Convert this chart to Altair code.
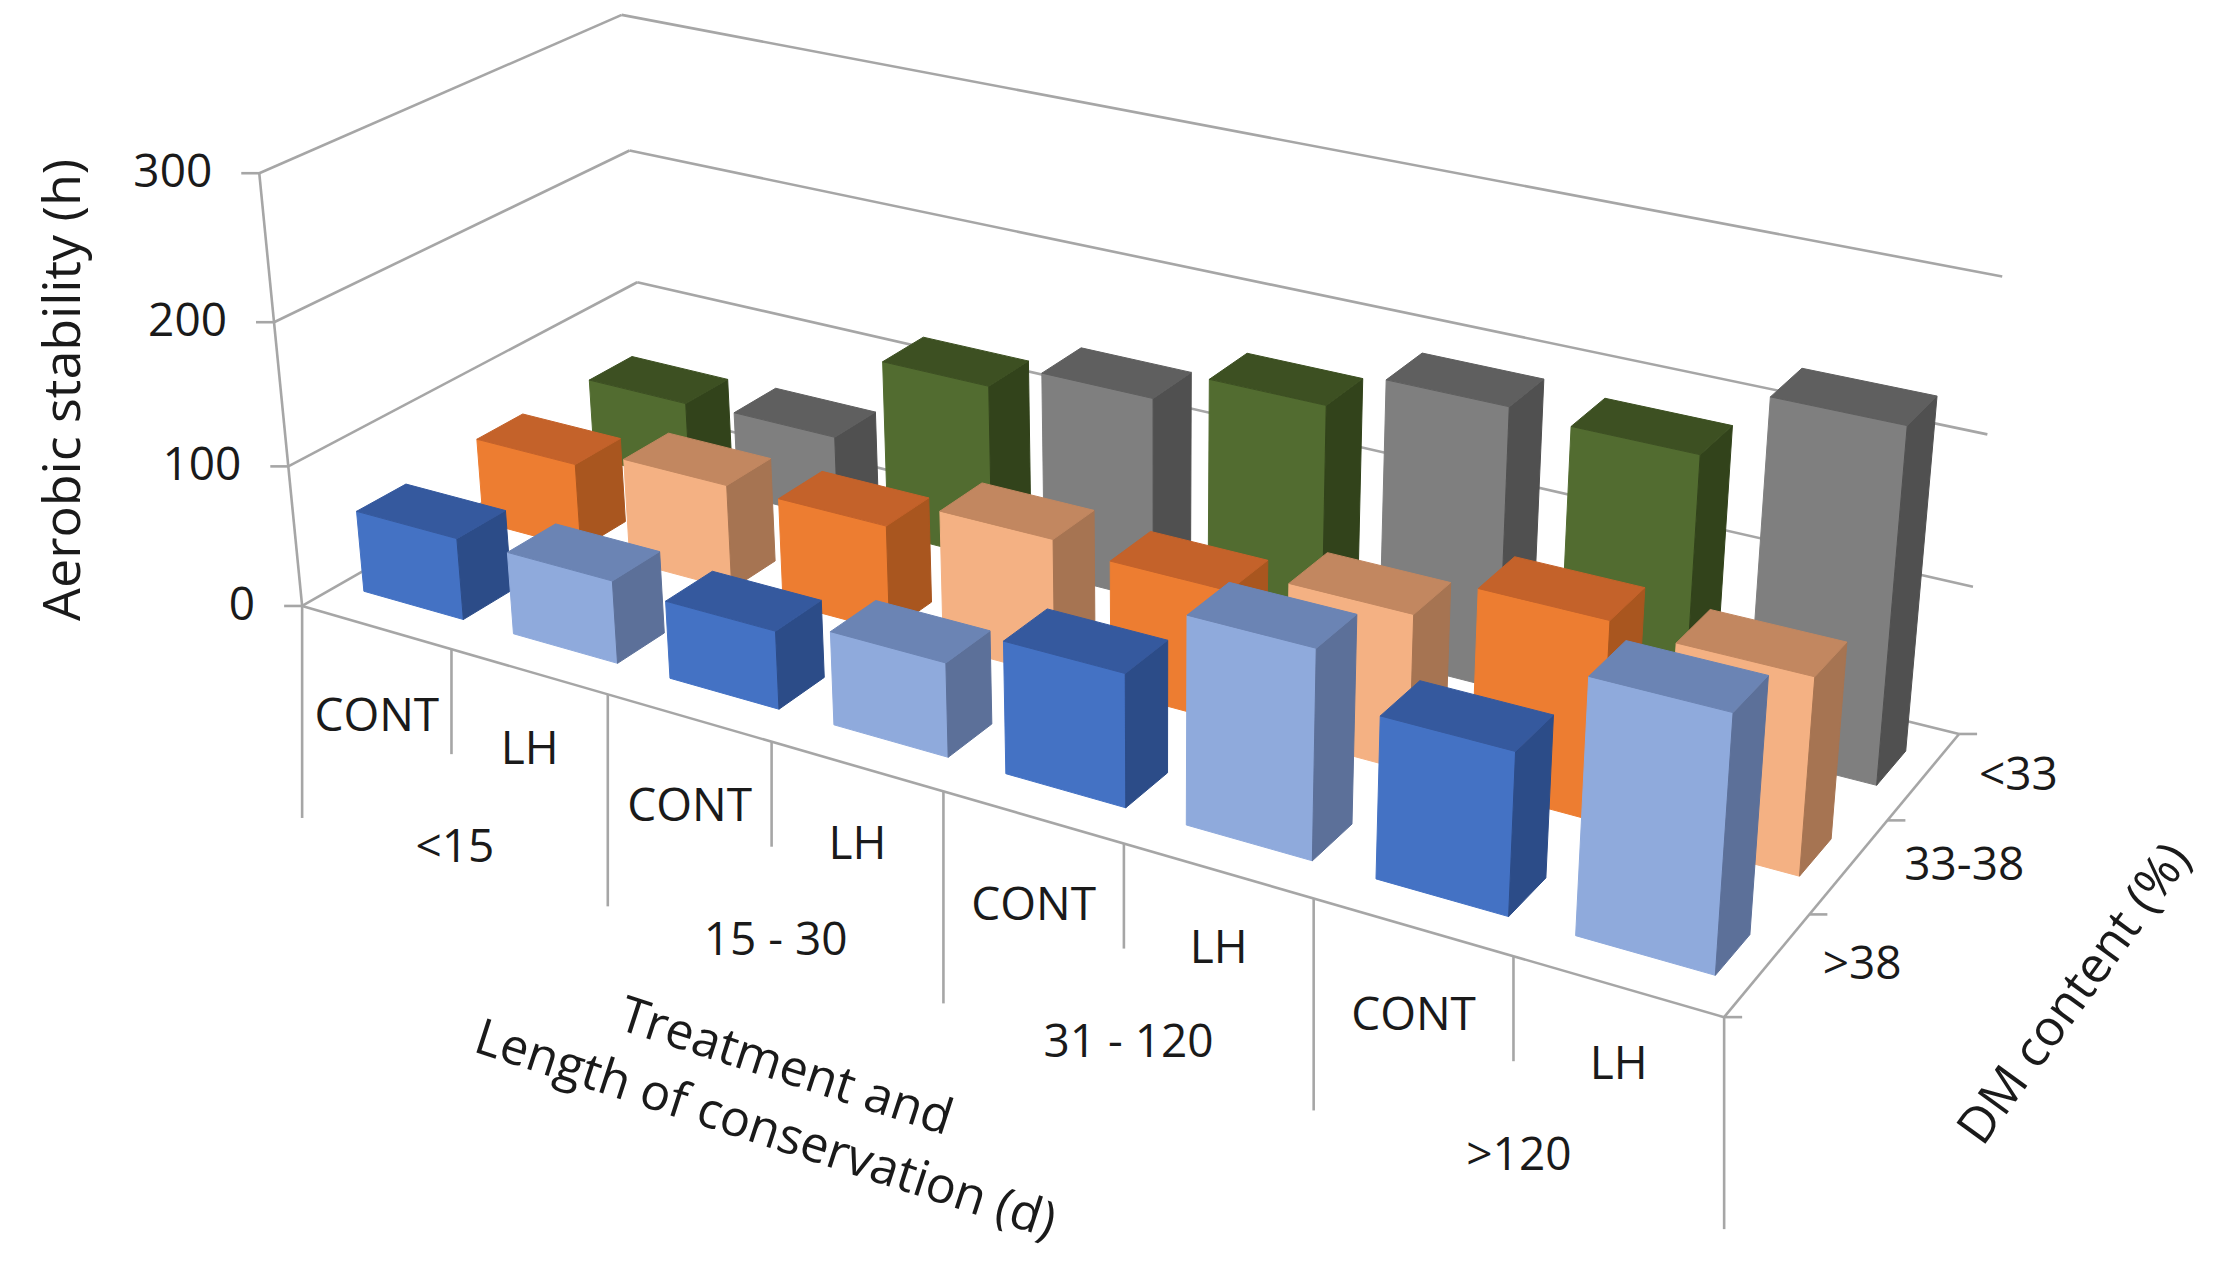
import numpy as np
import pandas as pd
import altair as alt

# ---------------- data ----------------
length_groups = ["<15", "15 - 30", "31 - 120", ">120"]
treatments = ["CONT", "LH"]
dm_classes = [">38", "33-38", "<33"]          # front row -> back row
value_ticks = [0, 100, 200, 300]
# aerobic stability (h); order: CONT <15, LH <15, CONT 15-30, LH 15-30, CONT 31-120, LH 31-120, CONT >120, LH >120
stab_gt38 = [58, 58, 54, 64, 89, 137, 105, 162]
stab_33_38 = [62, 75, 75, 95, 90, 105, 132, 128]
stab_lt33 = [60, 62, 126, 144, 166, 192, 188, 234]

# ---------------- 3-D view (camera) ----------------
W, H = 2200, 1260
CAMERA = dict(cx=1126.99, cy=453.35, focal=3935.97,
              yaw=0.529548, pitch=0.421643, roll=-0.002524,
              pos=(13.13543, -13.788102, 9.133168),
              row_depth=0.994475, hour_height=0.00803058)
BW, BD = 0.67, 0.40          # bar width / depth as a share of its cell


def basis(yaw, pitch, roll):
    hf = np.array([-np.sin(yaw), np.cos(yaw), 0.0])
    hr = np.array([np.cos(yaw), np.sin(yaw), 0.0])
    ez = np.array([0.0, 0.0, 1.0])
    w = np.cos(pitch) * hf - np.sin(pitch) * ez
    u0 = np.sin(pitch) * hf + np.cos(pitch) * ez
    r = np.cos(roll) * hr + np.sin(roll) * u0
    u = -np.sin(roll) * hr + np.cos(roll) * u0
    return r, u, w


RV, UV, WV = basis(CAMERA["yaw"], CAMERA["pitch"], CAMERA["roll"])
CPOS = np.array(CAMERA["pos"])


def world(pts):
    pts = np.atleast_2d(np.asarray(pts, float))
    return np.column_stack([pts[:, 0], pts[:, 1] * CAMERA["row_depth"], pts[:, 2] * CAMERA["hour_height"]])


def project(pts):
    d = world(pts) - CPOS
    zc = d @ WV
    f = CAMERA["focal"]
    return np.column_stack([CAMERA["cx"] + f * (d @ RV) / zc, CAMERA["cy"] - f * (d @ UV) / zc])


def P(pt):
    return project([pt])[0]


# ---------------- colours (front, top, side) ----------------
shades = {
    (0, 0): ("#4472C4", "#35599E", "#2C4C88"),
    (0, 1): ("#8FAADC", "#6B84B4", "#5C7099"),
    (1, 0): ("#ED7D31", "#C4622A", "#A9561F"),
    (1, 1): ("#F4B183", "#C28760", "#A67452"),
    (2, 0): ("#526C30", "#3D5022", "#32431B"),
    (2, 1): ("#7F7F7F", "#5F5F5F", "#505050"),
}

cat_labels = [(g, t) for g in length_groups for t in treatments]
series = [stab_gt38, stab_33_38, stab_lt33]

bars = []
for r_, vals in enumerate(series):
    for i_, v in enumerate(vals):
        bars.append((r_, i_, v))


def depth_of(b):
    r_, i_, v = b
    c = world([(i_ + 0.5, r_ + 0.5, v / 2)])[0]
    return (c - CPOS) @ WV


ordered = sorted(bars, key=lambda b: -depth_of(b))   # far bars first
poly_rows = []
for rank, (r_, i_, v) in enumerate(ordered):
    x0, x1 = i_ + 0.5 - BW / 2, i_ + 0.5 + BW / 2
    y0, y1 = r_ + 0.5 - BD / 2, r_ + 0.5 + BD / 2
    fr, tp, sd = shades[(r_, i_ % 2)]
    faces = [
        ("front", fr, [(x0, y0, 0), (x1, y0, 0), (x1, y0, v), (x0, y0, v)]),
        ("side", sd, [(x1, y0, 0), (x1, y1, 0), (x1, y1, v), (x1, y0, v)]),
        ("top", tp, [(x0, y0, v), (x1, y0, v), (x1, y1, v), (x0, y1, v)]),
    ]
    for fname, col, verts in faces:
        pts = project(verts)
        for k, (px, py) in enumerate(pts):
            poly_rows.append(dict(rank=rank, poly=f"{rank}-{fname}", k=k, px=px, py=py, color=col))
poly_df = pd.DataFrame(poly_rows)

XS = alt.Scale(domain=[0, W], nice=False, zero=False)
YS = alt.Scale(domain=[0, H], reverse=True, nice=False, zero=False)
GRID = "#A6A6A6"

# ---------------- frame: walls, gridlines, axes ----------------
n_cat = len(cat_labels)
n_dm = len(dm_classes)
back_seg = []
for v in value_ticks:
    a, b, c = P((0, 0, v)), P((0, n_dm, v)), P((n_cat, n_dm, v))
    back_seg.append((*a, *b))
    back_seg.append((*b, *c))
a, b = P((0, 0, 0)), P((0, 0, value_ticks[-1]))
back_seg.append((*a, *b))
for v in value_ticks:
    a = P((0, 0, v))
    back_seg.append((a[0] - 18, a[1], a[0], a[1]))
back_df = pd.DataFrame(back_seg, columns=["px", "py", "px2", "py2"])

front_seg = []
a, b, c = P((0, 0, 0)), P((n_cat, 0, 0)), P((n_cat, n_dm, 0))
front_seg.append((*a, *b))
front_seg.append((*b, *c))
for yv in range(n_dm + 1):
    a = P((n_cat, yv, 0))
    front_seg.append((a[0], a[1], a[0] + 18, a[1]))
for xv in range(n_cat + 1):
    a = P((xv, 0, 0))
    ln = 212 if xv % 2 == 0 else 105
    front_seg.append((a[0], a[1], a[0], a[1] + ln))
front_df = pd.DataFrame(front_seg, columns=["px", "py", "px2", "py2"])


def rules(df):
    return alt.Chart(df).mark_rule(color=GRID, strokeWidth=2.6).encode(
        x=alt.X("px:Q", scale=XS, axis=None), y=alt.Y("py:Q", scale=YS, axis=None),
        x2="px2:Q", y2="py2:Q")


layers = [rules(back_df)]
for rank in range(len(ordered)):
    layers.append(
        alt.Chart(poly_df).transform_filter(alt.datum.rank == rank)
        .mark_line(interpolate="linear-closed", filled=True, strokeWidth=1)
        .encode(x=alt.X("px:Q", scale=XS, axis=None), y=alt.Y("py:Q", scale=YS, axis=None),
                detail="poly:N", order="k:Q",
                fill=alt.Fill("color:N", scale=None), stroke=alt.Stroke("color:N", scale=None)))
layers.append(rules(front_df))

# ---------------- labels ----------------
FONT = "Open Sans"
TXT = "#1A1A1A"
val_df = pd.DataFrame([dict(px=P((0, 0, v))[0] - 47, py=P((0, 0, v))[1], t=str(v)) for v in value_ticks])

cat_rows = []
for k, (g, t) in enumerate(cat_labels):
    a, b = P((k, 0, 0)), P((k + 1, 0, 0))
    off = 89 if t == "CONT" else 78
    cat_rows.append(dict(px=(a[0] + b[0]) / 2, py=(a[1] + b[1]) / 2 + off, t=t))
for gi, g in enumerate(length_groups):
    a, b = P((2 * gi, 0, 0)), P((2 * gi + 2, 0, 0))
    cat_rows.append(dict(px=(a[0] + b[0]) / 2, py=(a[1] + b[1]) / 2 + 198, t=g))
cat_df = pd.DataFrame(cat_rows)

dm_df = pd.DataFrame([dict(px=P((n_cat, r_ + 0.5, 0))[0] + 55, py=P((n_cat, r_ + 0.5, 0))[1], t=dm)
                      for r_, dm in enumerate(dm_classes)])


def texts(df, align, size=46, angle=0, extra=None):
    kw = dict(font=FONT, fontSize=size, color=TXT, align=align, baseline="middle")
    if angle:
        kw["angle"] = angle
    if extra:
        kw.update(extra)
    return alt.Chart(df).mark_text(**kw).encode(
        x=alt.X("px:Q", scale=XS, axis=None), y=alt.Y("py:Q", scale=YS, axis=None), text="t:N")


layers += [texts(val_df, "right"), texts(cat_df, "center"), texts(dm_df, "left")]

am = P((0, 0, 150))
t1 = pd.DataFrame([dict(px=am[0] - 217, py=am[1] - 5, t="Aerobic stability (h)")])
cm = P((3, 0, 0))
t2 = pd.DataFrame([dict(px=cm[0] + 14, py=cm[1] + 326, t="Treatment and\nLength of conservation (d)")])
dmid = P((n_cat, 1.5, 0))
t3 = pd.DataFrame([dict(px=dmid[0] + 226, py=dmid[1] + 128, t="DM content (%)")])
layers += [texts(t1, "center", 52, 270),
           texts(t2, "center", 50, 18, dict(lineBreak="\n", lineHeight=66)),
           texts(t3, "center", 50, 306)]

chart = alt.layer(*layers).properties(
    width=W, height=H, padding=0, autosize=alt.AutoSizeParams(type="none"), background="white"
).configure_view(strokeWidth=0)

chart.save("out.html", embed_options={"renderer": "svg", "actions": False})
